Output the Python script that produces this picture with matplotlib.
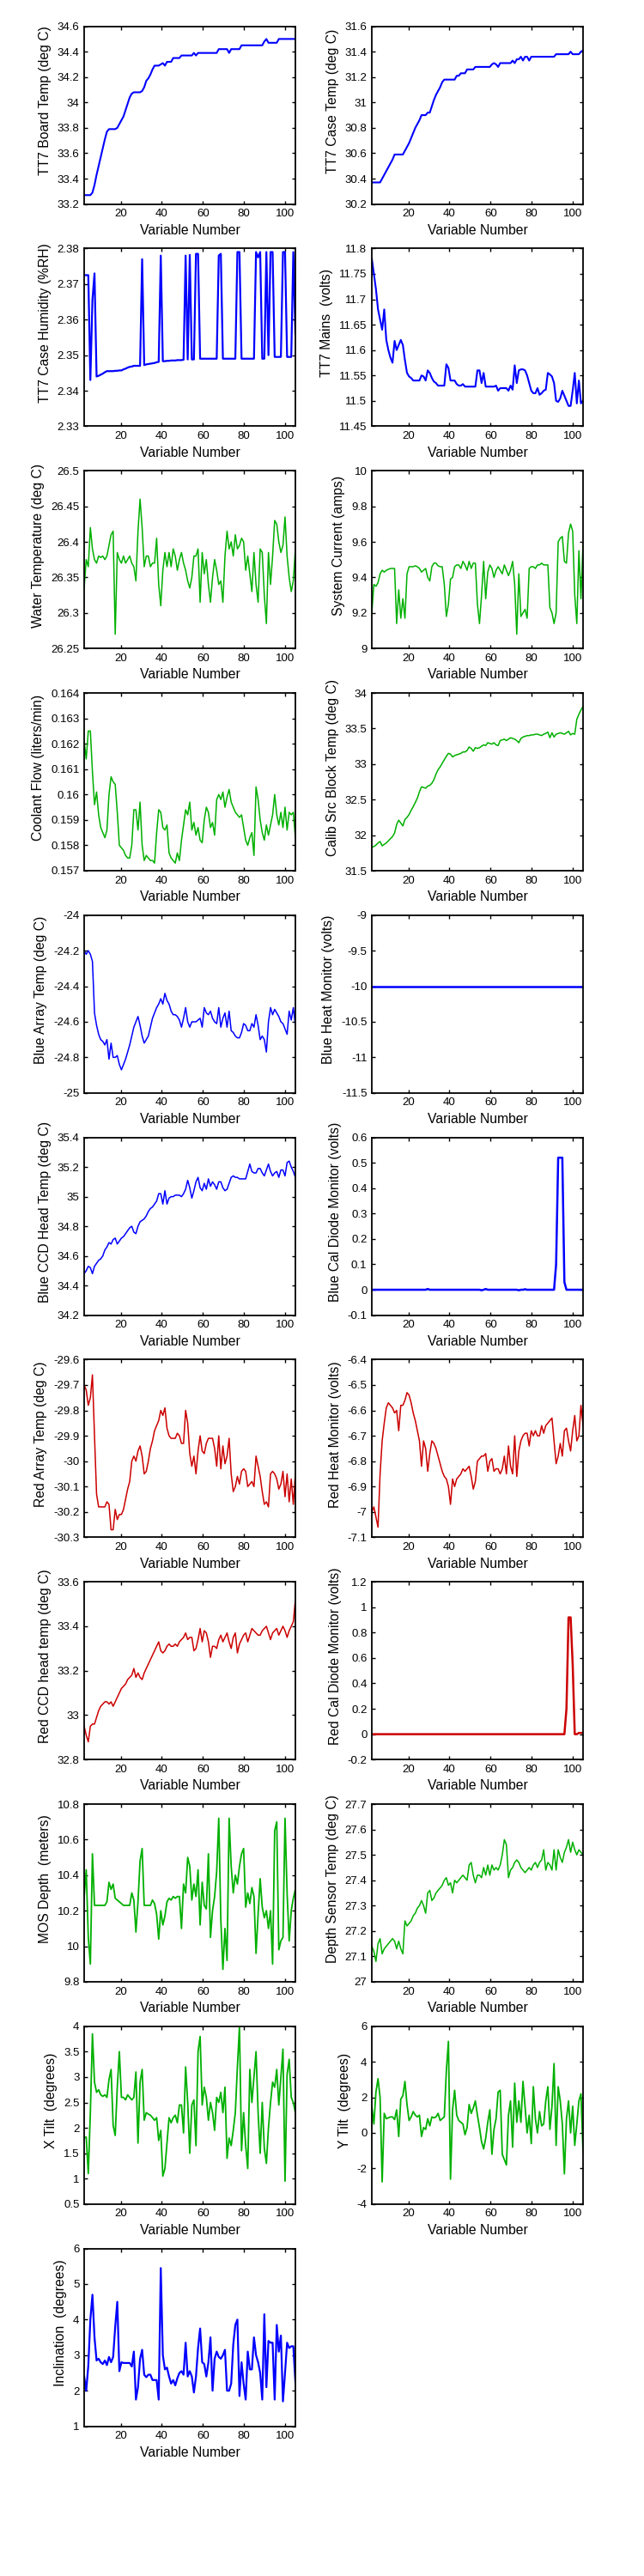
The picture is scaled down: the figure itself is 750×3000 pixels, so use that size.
import numpy as np
import matplotlib
matplotlib.use("Agg")
import matplotlib.pyplot as plt
from matplotlib.ticker import FuncFormatter

plt.rcParams['font.family'] = ['Liberation Sans', 'DejaVu Sans']

# sample positions (variable number axis)
var_num = np.linspace(2.2, 105, 103)

# ---- data, one list per panel ----
tt7_board = [33.27, 33.27, 33.27, 33.27, 33.29, 33.35, 33.43, 33.50, 33.57, 33.64,
             33.71, 33.77, 33.79, 33.79, 33.79, 33.79, 33.80, 33.83, 33.86, 33.89,
             33.94, 33.99, 34.04, 34.07, 34.08, 34.08, 34.08, 34.08, 34.09, 34.12,
             34.17, 34.19, 34.22, 34.26, 34.29, 34.29, 34.29, 34.30, 34.31, 34.29,
             34.32, 34.32, 34.32, 34.35, 34.35, 34.35, 34.35, 34.37, 34.37, 34.37,
             34.37, 34.37, 34.37, 34.39, 34.37, 34.39, 34.39, 34.39, 34.39, 34.39,
             34.39, 34.39, 34.39, 34.39, 34.39, 34.42, 34.42, 34.42, 34.42, 34.42,
             34.39, 34.42, 34.42, 34.42, 34.42, 34.42, 34.45, 34.45, 34.45, 34.45,
             34.45, 34.45, 34.45, 34.45, 34.45, 34.45, 34.45, 34.48, 34.50, 34.47,
             34.47, 34.47, 34.47, 34.47, 34.50, 34.50, 34.50, 34.50, 34.50, 34.50,
             34.50, 34.50, 34.50]

tt7_case = [30.37, 30.37, 30.37, 30.37, 30.37, 30.40, 30.43, 30.46, 30.49, 30.52,
            30.55, 30.59, 30.59, 30.59, 30.59, 30.59, 30.62, 30.65, 30.68, 30.72,
            30.76, 30.80, 30.83, 30.86, 30.90, 30.90, 30.90, 30.92, 30.92, 30.97,
            31.02, 31.06, 31.09, 31.12, 31.16, 31.18, 31.18, 31.18, 31.18, 31.18,
            31.18, 31.21, 31.21, 31.23, 31.23, 31.23, 31.26, 31.26, 31.26, 31.26,
            31.28, 31.28, 31.28, 31.28, 31.28, 31.28, 31.28, 31.28, 31.30, 31.31,
            31.30, 31.28, 31.31, 31.31, 31.31, 31.31, 31.31, 31.31, 31.33, 31.31,
            31.34, 31.34, 31.36, 31.33, 31.36, 31.36, 31.33, 31.36, 31.36, 31.36,
            31.36, 31.36, 31.36, 31.36, 31.36, 31.36, 31.36, 31.36, 31.36, 31.38,
            31.38, 31.38, 31.38, 31.38, 31.38, 31.38, 31.40, 31.38, 31.38, 31.38,
            31.38, 31.40, 31.41]

tt7_humidity = [2.3725, 2.3725, 2.3725, 2.343, 2.3655, 2.373, 2.344, 2.3442, 2.3445, 2.3448,
                2.3452, 2.3455, 2.3455, 2.3455, 2.3455, 2.3456, 2.3456, 2.3457, 2.3457, 2.346,
                2.3462, 2.3465, 2.3467, 2.3468, 2.347, 2.347, 2.347, 2.347, 2.377, 2.3472,
                2.3474, 2.3475, 2.3476, 2.3477, 2.3478, 2.348, 2.3481, 2.378, 2.3483, 2.3483,
                2.3484, 2.3484, 2.3485, 2.3485, 2.3485, 2.3486, 2.3486, 2.3486, 2.3487, 2.378,
                2.3488, 2.3782, 2.3488, 2.3488, 2.3785, 2.3785, 2.349, 2.349, 2.349, 2.349,
                2.349, 2.349, 2.349, 2.349, 2.349, 2.378, 2.3785, 2.349, 2.349, 2.349,
                2.349, 2.349, 2.349, 2.349, 2.379, 2.379, 2.349, 2.349, 2.349, 2.349,
                2.349, 2.349, 2.349, 2.379, 2.3775, 2.379, 2.349, 2.349, 2.379, 2.350,
                2.379, 2.379, 2.3495, 2.3495, 2.3495, 2.3495, 2.379, 2.379, 2.3495, 2.3495,
                2.3495, 2.379, 2.356]

tt7_mains = [11.78, 11.75, 11.72, 11.68, 11.66, 11.64, 11.68, 11.62, 11.60, 11.585,
             11.575, 11.618, 11.60, 11.61, 11.62, 11.61, 11.58, 11.555, 11.548, 11.545,
             11.54, 11.54, 11.54, 11.54, 11.55, 11.548, 11.54, 11.56, 11.555, 11.545,
             11.538, 11.535, 11.53, 11.53, 11.53, 11.53, 11.572, 11.565, 11.54, 11.54,
             11.54, 11.533, 11.53, 11.53, 11.533, 11.528, 11.528, 11.528, 11.528, 11.528,
             11.528, 11.56, 11.56, 11.535, 11.555, 11.528, 11.528, 11.528, 11.528, 11.528,
             11.53, 11.52, 11.525, 11.525, 11.525, 11.525, 11.52, 11.53, 11.522, 11.57,
             11.535, 11.56, 11.562, 11.562, 11.56, 11.55, 11.535, 11.52, 11.515, 11.515,
             11.525, 11.512, 11.515, 11.52, 11.522, 11.555, 11.552, 11.548, 11.535, 11.50,
             11.498, 11.505, 11.52, 11.51, 11.50, 11.49, 11.49, 11.52, 11.555, 11.495,
             11.54, 11.495, 11.50]

water_temp = [26.335, 26.375, 26.365, 26.42, 26.39, 26.375, 26.37, 26.38, 26.378, 26.38,
              26.375, 26.38, 26.395, 26.41, 26.415, 26.27, 26.385, 26.375, 26.37, 26.38,
              26.37, 26.375, 26.38, 26.37, 26.365, 26.345, 26.415, 26.46, 26.42, 26.365,
              26.38, 26.38, 26.365, 26.37, 26.37, 26.405, 26.34, 26.31, 26.36, 26.385,
              26.365, 26.385, 26.365, 26.39, 26.38, 26.36, 26.375, 26.385, 26.37, 26.36,
              26.345, 26.335, 26.35, 26.38, 26.38, 26.39, 26.315, 26.385, 26.355, 26.375,
              26.34, 26.315, 26.35, 26.375, 26.36, 26.34, 26.345, 26.315, 26.38, 26.415,
              26.39, 26.40, 26.38, 26.41, 26.39, 26.395, 26.405, 26.40, 26.36, 26.38,
              26.355, 26.33, 26.385, 26.34, 26.315, 26.39, 26.385, 26.325, 26.285, 26.385,
              26.34, 26.38, 26.43, 26.425, 26.40, 26.385, 26.395, 26.435, 26.38, 26.35,
              26.33, 26.345, 26.39]

system_current = [9.20, 9.36, 9.35, 9.37, 9.42, 9.44, 9.43, 9.44, 9.445, 9.45,
                  9.45, 9.45, 9.14, 9.33, 9.17, 9.28, 9.17, 9.42, 9.46, 9.46,
                  9.46, 9.465, 9.46, 9.45, 9.43, 9.44, 9.45, 9.40, 9.38, 9.46,
                  9.48, 9.48, 9.465, 9.46, 9.46, 9.36, 9.18, 9.25, 9.39, 9.40,
                  9.46, 9.47, 9.47, 9.45, 9.49, 9.47, 9.44, 9.49, 9.45, 9.48,
                  9.48, 9.25, 9.14, 9.30, 9.49, 9.28, 9.43, 9.47, 9.45, 9.40,
                  9.44, 9.46, 9.44, 9.42, 9.47, 9.44, 9.41, 9.44, 9.49, 9.36,
                  9.08, 9.42, 9.18, 9.20, 9.22, 9.17, 9.45, 9.46, 9.46, 9.45,
                  9.47, 9.47, 9.48, 9.47, 9.47, 9.47, 9.23, 9.20, 9.14, 9.20,
                  9.60, 9.62, 9.63, 9.49, 9.48, 9.65, 9.70, 9.66, 9.30, 9.14,
                  9.55, 9.28, 9.60]

coolant_flow = [0.1621, 0.1614, 0.1625, 0.1625, 0.1609, 0.1596, 0.1601, 0.1592, 0.1587, 0.1585,
                0.1583, 0.1586, 0.1600, 0.1607, 0.1605, 0.1604, 0.1593, 0.1580, 0.1579, 0.1578,
                0.1576, 0.1575, 0.1575, 0.1580, 0.1594, 0.1594, 0.1586, 0.1597, 0.1580, 0.1574,
                0.1576, 0.1575, 0.1574, 0.1574, 0.1573, 0.1585, 0.1594, 0.1593, 0.1587, 0.1586,
                0.1588, 0.1577, 0.1575, 0.1574, 0.1573, 0.1577, 0.1574, 0.1582, 0.1588, 0.1594,
                0.1592, 0.1597, 0.1586, 0.1589, 0.1584, 0.1587, 0.1582, 0.1581, 0.1590, 0.1595,
                0.1593, 0.1587, 0.1589, 0.1584, 0.1598, 0.1600, 0.1598, 0.1601, 0.1595, 0.1599,
                0.1602, 0.1597, 0.1595, 0.1593, 0.1592, 0.1591, 0.1592, 0.1587, 0.1582, 0.1580,
                0.1583, 0.1585, 0.1576, 0.1603, 0.1598, 0.1590, 0.1585, 0.1582, 0.1588, 0.1584,
                0.1588, 0.1592, 0.1600, 0.1592, 0.1588, 0.1593, 0.1587, 0.1595, 0.1586, 0.1593,
                0.1592, 0.1593, 0.1583]

calib_src = [31.83, 31.84, 31.86, 31.89, 31.91, 31.85, 31.87, 31.89, 31.92, 31.95,
             31.98, 32.03, 32.15, 32.21, 32.17, 32.13, 32.22, 32.25, 32.29, 32.35,
             32.40, 32.46, 32.52, 32.61, 32.68, 32.67, 32.66, 32.69, 32.70, 32.73,
             32.78, 32.86, 32.92, 32.96, 33.01, 33.06, 33.11, 33.15, 33.14, 33.10,
             33.12, 33.13, 33.14, 33.15, 33.17, 33.17, 33.19, 33.24, 33.22, 33.18,
             33.23, 33.22, 33.23, 33.25, 33.27, 33.26, 33.30, 33.29, 33.28, 33.30,
             33.27, 33.26, 33.33, 33.34, 33.35, 33.33, 33.35, 33.37, 33.36, 33.35,
             33.33, 33.30, 33.36, 33.38, 33.39, 33.40, 33.40, 33.41, 33.41, 33.42,
             33.42, 33.41, 33.40, 33.42, 33.43, 33.45, 33.37, 33.44, 33.38, 33.42,
             33.43, 33.44, 33.43, 33.42, 33.44, 33.46, 33.41, 33.43, 33.42, 33.63,
             33.70, 33.76, 33.81]

blue_array = [-24.20, -24.22, -24.20, -24.22, -24.26, -24.55, -24.62, -24.67, -24.70, -24.71,
              -24.73, -24.70, -24.81, -24.72, -24.80, -24.80, -24.79, -24.84, -24.87, -24.84,
              -24.81, -24.77, -24.73, -24.68, -24.63, -24.60, -24.57, -24.62, -24.68, -24.72,
              -24.70, -24.68, -24.63, -24.58, -24.55, -24.52, -24.50, -24.47, -24.50, -24.44,
              -24.48, -24.50, -24.54, -24.56, -24.56, -24.57, -24.59, -24.63, -24.58, -24.52,
              -24.60, -24.63, -24.60, -24.60, -24.60, -24.59, -24.58, -24.63, -24.52, -24.55,
              -24.56, -24.54, -24.58, -24.60, -24.61, -24.52, -24.63, -24.58, -24.55, -24.63,
              -24.54, -24.65, -24.66, -24.68, -24.69, -24.69, -24.66, -24.61, -24.62, -24.65,
              -24.65, -24.61, -24.63, -24.56, -24.62, -24.70, -24.68, -24.70, -24.77, -24.60,
              -24.52, -24.56, -24.53, -24.55, -24.57, -24.60, -24.61, -24.64, -24.67, -24.54,
              -24.59, -24.52, -24.62]

blue_heat = [-10.0, -10.0, -10.0, -10.0, -10.0, -10.0, -10.0, -10.0, -10.0, -10.0,
             -10.0, -10.0, -10.0, -10.0, -10.0, -10.0, -10.0, -10.0, -10.0, -10.0,
             -10.0, -10.0, -10.0, -10.0, -10.0, -10.0, -10.0, -10.0, -10.0, -10.0,
             -10.0, -10.0, -10.0, -10.0, -10.0, -10.0, -10.0, -10.0, -10.0, -10.0,
             -10.0, -10.0, -10.0, -10.0, -10.0, -10.0, -10.0, -10.0, -10.0, -10.0,
             -10.0, -10.0, -10.0, -10.0, -10.0, -10.0, -10.0, -10.0, -10.0, -10.0,
             -10.0, -10.0, -10.0, -10.0, -10.0, -10.0, -10.0, -10.0, -10.0, -10.0,
             -10.0, -10.0, -10.0, -10.0, -10.0, -10.0, -10.0, -10.0, -10.0, -10.0,
             -10.0, -10.0, -10.0, -10.0, -10.0, -10.0, -10.0, -10.0, -10.0, -10.0,
             -10.0, -10.0, -10.0, -10.0, -10.0, -10.0, -10.0, -10.0, -10.0, -10.0,
             -10.0, -10.0, -10.0]

blue_ccd = [34.48, 34.50, 34.53, 34.52, 34.48, 34.53, 34.55, 34.57, 34.58, 34.60,
            34.64, 34.66, 34.69, 34.68, 34.71, 34.72, 34.68, 34.70, 34.72, 34.73,
            34.75, 34.77, 34.79, 34.80, 34.76, 34.75, 34.80, 34.83, 34.84, 34.85,
            34.87, 34.90, 34.92, 34.93, 34.95, 34.97, 35.02, 35.02, 34.95, 35.04,
            34.95, 34.99, 35.00, 35.00, 35.01, 35.01, 35.01, 35.00, 35.02, 35.05,
            35.11, 35.06, 34.99, 35.04, 35.10, 35.13, 35.06, 35.04, 35.09, 35.05,
            35.12, 35.07, 35.10, 35.08, 35.05, 35.10, 35.10, 35.06, 35.04, 35.05,
            35.09, 35.13, 35.14, 35.13, 35.13, 35.12, 35.12, 35.12, 35.12, 35.17,
            35.22, 35.17, 35.16, 35.16, 35.19, 35.19, 35.16, 35.14, 35.18, 35.22,
            35.17, 35.14, 35.16, 35.17, 35.13, 35.18, 35.18, 35.14, 35.23, 35.24,
            35.20, 35.17, 35.13]

blue_cal_diode = [0.0, 0.0, 0.0, 0.0, 0.0, 0.0, 0.0, 0.0, 0.0, 0.0,
                  0.0, 0.0, 0.0, 0.0, 0.0, 0.0, 0.0, 0.0, 0.0, 0.0,
                  0.0, 0.0, 0.0, 0.0, 0.0, 0.0, 0.0, 0.003, 0.0, 0.0,
                  0.0, 0.0, 0.0, 0.0, 0.0, 0.0, 0.0, 0.0, 0.0, 0.0,
                  0.0, 0.0, 0.0, 0.0, 0.0, 0.0, 0.0, 0.0, 0.0, 0.0,
                  0.0, 0.0, 0.0, -0.002, 0.0, 0.003, 0.0, 0.0, 0.0, 0.0,
                  0.0, 0.0, 0.0, 0.0, 0.0, 0.0, 0.0, 0.0, 0.0, 0.0,
                  0.0, -0.002, 0.0, 0.0, 0.002, 0.0, 0.0, 0.0, 0.0, 0.0,
                  0.0, 0.0, 0.0, 0.0, 0.0, 0.0, 0.0, 0.0, 0.0, 0.10,
                  0.52, 0.52, 0.52, 0.03, 0.0, 0.0, 0.0, 0.0, 0.0, 0.0,
                  0.0, 0.0, 0.0]

red_array = [-29.70, -29.72, -29.78, -29.75, -29.66, -29.90, -30.13, -30.18, -30.18, -30.18,
             -30.18, -30.16, -30.17, -30.27, -30.27, -30.19, -30.23, -30.21, -30.21, -30.19,
             -30.15, -30.11, -30.08, -30.00, -29.98, -30.00, -29.96, -29.94, -29.98, -30.05,
             -30.04, -30.00, -29.95, -29.92, -29.88, -29.86, -29.84, -29.80, -29.82, -29.79,
             -29.87, -29.90, -29.91, -29.91, -29.91, -29.89, -29.90, -29.93, -29.93, -29.80,
             -29.85, -29.97, -30.02, -29.98, -30.05, -29.96, -29.90, -29.96, -29.97, -29.93,
             -29.91, -29.91, -29.91, -29.95, -30.02, -29.90, -30.03, -29.94, -30.01, -29.98,
             -29.91, -30.05, -30.12, -30.10, -30.06, -30.09, -30.04, -30.03, -30.04, -30.10,
             -30.09, -30.08, -30.10, -29.98, -30.02, -30.06, -30.12, -30.17, -30.16, -30.18,
             -30.05, -30.04, -30.05, -30.07, -30.11, -30.09, -30.04, -30.14, -30.05, -30.16,
             -30.07, -30.17, -30.05]

red_heat = [-7.00, -6.98, -7.02, -7.06, -6.85, -6.72, -6.65, -6.59, -6.57, -6.58,
            -6.59, -6.61, -6.60, -6.68, -6.58, -6.58, -6.56, -6.53, -6.54, -6.57,
            -6.61, -6.64, -6.68, -6.72, -6.82, -6.72, -6.75, -6.84, -6.77, -6.72,
            -6.73, -6.75, -6.78, -6.81, -6.84, -6.86, -6.87, -6.90, -6.97, -6.87,
            -6.90, -6.87, -6.86, -6.85, -6.83, -6.84, -6.83, -6.82, -6.86, -6.91,
            -6.88, -6.80, -6.79, -6.78, -6.78, -6.77, -6.84, -6.80, -6.79, -6.84,
            -6.83, -6.83, -6.85, -6.83, -6.78, -6.85, -6.74, -6.82, -6.85, -6.70,
            -6.86, -6.76, -6.72, -6.70, -6.69, -6.69, -6.74, -6.68, -6.70, -6.68,
            -6.70, -6.70, -6.66, -6.69, -6.66, -6.65, -6.64, -6.63, -6.72, -6.81,
            -6.78, -6.73, -6.78, -6.68, -6.67, -6.72, -6.76, -6.68, -6.62, -6.72,
            -6.70, -6.58, -6.66]

red_ccd = [32.95, 32.91, 32.88, 32.95, 32.96, 32.96, 32.99, 33.02, 33.04, 33.05,
           33.06, 33.06, 33.05, 33.06, 33.04, 33.06, 33.08, 33.10, 33.12, 33.13,
           33.14, 33.16, 33.17, 33.18, 33.21, 33.17, 33.19, 33.17, 33.16, 33.19,
           33.21, 33.23, 33.25, 33.27, 33.29, 33.31, 33.33, 33.29, 33.28, 33.29,
           33.31, 33.32, 33.31, 33.31, 33.32, 33.31, 33.33, 33.34, 33.35, 33.37,
           33.34, 33.35, 33.35, 33.29, 33.30, 33.34, 33.39, 33.33, 33.38, 33.37,
           33.33, 33.26, 33.31, 33.31, 33.30, 33.34, 33.36, 33.33, 33.35, 33.37,
           33.33, 33.30, 33.35, 33.37, 33.28, 33.32, 33.34, 33.36, 33.37, 33.33,
           33.36, 33.39, 33.38, 33.37, 33.36, 33.36, 33.38, 33.39, 33.40, 33.37,
           33.34, 33.37, 33.38, 33.39, 33.36, 33.38, 33.40, 33.38, 33.35, 33.38,
           33.40, 33.42, 33.52]

red_cal_diode = [0.0, 0.0, 0.0, 0.0, 0.0, 0.0, 0.0, 0.0, 0.0, 0.0,
                 0.0, 0.0, 0.0, 0.0, 0.0, 0.0, 0.0, 0.0, 0.0, 0.0,
                 0.0, 0.0, 0.0, 0.0, 0.0, 0.0, 0.0, 0.0, 0.0, 0.0,
                 0.0, 0.0, 0.0, 0.0, 0.0, 0.0, 0.0, 0.0, 0.0, 0.0,
                 0.0, 0.0, 0.0, 0.0, 0.0, 0.0, 0.0, 0.0, 0.0, 0.0,
                 0.0, 0.0, 0.0, 0.0, 0.0, 0.0, 0.0, 0.0, 0.0, 0.0,
                 0.0, 0.0, 0.0, 0.0, 0.0, 0.0, 0.0, 0.0, 0.0, 0.0,
                 0.0, 0.0, 0.0, 0.0, 0.0, 0.0, 0.0, 0.0, 0.0, 0.0,
                 0.0, 0.0, 0.0, 0.0, 0.0, 0.0, 0.0, 0.0, 0.0, 0.0,
                 0.0, 0.0, 0.0, 0.0, 0.20, 0.92, 0.92, 0.55, 0.0, 0.0,
                 0.01, 0.01, 0.01]

mos_depth = [10.28, 10.43, 10.05, 9.90, 10.52, 10.23, 10.23, 10.23, 10.23, 10.23,
             10.23, 10.25, 10.36, 10.32, 10.35, 10.27, 10.26, 10.25, 10.24, 10.23,
             10.23, 10.23, 10.23, 10.30, 10.26, 10.08, 10.25, 10.48, 10.55, 10.23,
             10.23, 10.23, 10.23, 10.26, 10.24, 10.18, 10.04, 10.20, 10.12, 10.17,
             10.25, 10.27, 10.26, 10.28, 10.27, 10.28, 10.28, 10.10, 10.35, 10.30,
             10.50, 10.45, 10.26, 10.35, 10.28, 10.43, 10.12, 10.36, 10.23, 10.21,
             10.52, 10.05, 10.20, 10.28, 10.42, 10.72, 10.15, 9.87, 10.10, 9.92,
             10.72, 10.45, 10.30, 10.40, 10.35, 10.45, 10.52, 10.55, 10.22, 10.30,
             10.24, 10.33, 10.28, 9.96, 10.18, 10.38, 10.22, 10.16, 10.20, 10.10,
             10.20, 9.90, 10.65, 10.70, 9.98, 10.03, 10.05, 10.72, 10.30, 10.03,
             10.20, 10.27, 10.32]

depth_temp = [27.14, 27.12, 27.08, 27.15, 27.17, 27.11, 27.13, 27.14, 27.15, 27.16,
              27.17, 27.16, 27.13, 27.16, 27.13, 27.11, 27.24, 27.22, 27.23, 27.24,
              27.26, 27.27, 27.29, 27.30, 27.32, 27.30, 27.27, 27.35, 27.36, 27.32,
              27.33, 27.35, 27.36, 27.37, 27.38, 27.40, 27.41, 27.38, 27.39, 27.35,
              27.40, 27.39, 27.40, 27.41, 27.42, 27.41, 27.40, 27.46, 27.47, 27.42,
              27.39, 27.42, 27.42, 27.41, 27.45, 27.42, 27.46, 27.42, 27.46, 27.44,
              27.45, 27.44, 27.46, 27.50, 27.56, 27.54, 27.41, 27.44, 27.45, 27.47,
              27.48, 27.47, 27.45, 27.44, 27.43, 27.44, 27.45, 27.44, 27.46, 27.47,
              27.45, 27.47, 27.48, 27.52, 27.44, 27.47, 27.46, 27.44, 27.52, 27.44,
              27.52, 27.49, 27.47, 27.51, 27.53, 27.56, 27.51, 27.55, 27.52, 27.50,
              27.52, 27.51, 27.50]

x_tilt = [1.80, 1.82, 1.10, 2.30, 3.85, 2.90, 2.70, 2.75, 2.65, 2.62,
          2.65, 2.60, 2.95, 3.15, 2.05, 1.85, 2.80, 3.50, 2.60, 2.60,
          2.55, 2.65, 2.60, 2.55, 2.60, 3.10, 1.70, 2.90, 3.15, 2.15,
          2.30, 2.27, 2.25, 2.20, 2.15, 2.20, 1.75, 1.95, 1.05, 1.20,
          1.70, 2.20, 2.10, 2.20, 2.25, 2.10, 2.45, 2.45, 1.90, 3.20,
          2.50, 1.50, 2.45, 2.55, 1.65, 3.50, 3.80, 2.45, 2.80, 2.60,
          2.15, 2.50, 2.30, 1.95, 2.60, 2.50, 2.70, 2.30, 2.80, 1.40,
          1.80, 1.65, 1.95, 2.30, 3.20, 4.00, 1.55, 2.30, 1.65, 1.20,
          3.15, 2.50, 3.00, 3.50, 2.30, 1.50, 2.50, 1.60, 1.30, 2.00,
          2.50, 2.90, 2.80, 3.15, 2.45, 3.00, 3.55, 0.95, 3.05, 3.35,
          2.60, 2.50, 2.30]

y_tilt = [1.50, 0.50, 2.30, 3.05, 2.00, -2.75, 1.10, 0.80, 0.85, 0.90,
          0.90, 0.75, 1.30, -0.20, 1.90, 2.10, 2.90, 1.60, 0.70, 0.90,
          1.20, 1.00, 0.90, 1.00, -0.20, 0.30, 0.20, 0.80, 0.40, 0.90,
          0.85, 0.90, 1.10, 0.70, 0.80, 0.90, 3.50, 5.15, -2.60, 1.30,
          2.40, 1.00, 0.70, 0.60, 0.50, -0.10, 0.30, 1.60, 1.10, 1.40,
          1.80, 1.00, 0.30, -0.50, -0.90, -0.30, 0.60, 1.30, -1.20, 0.20,
          0.80, 2.30, 2.40, -1.20, -1.50, -1.80, 1.00, 1.80, -0.80, 2.80,
          0.60, 1.80, 0.60, 2.90, 1.50, 0.00, 1.00, -0.60, 2.60, 0.80,
          0.00, 1.20, 0.40, 0.50, 1.80, 2.60, 0.20, 1.50, 3.90, -0.70,
          2.60, 1.80, 0.50, -2.30, 0.80, 1.80, 0.00, 1.50, -0.70, 0.50,
          1.80, 2.20, -1.10]

inclination = [2.40, 2.00, 2.70, 4.00, 4.70, 3.50, 2.85, 2.90, 2.80, 2.75,
               2.85, 2.72, 2.95, 2.80, 2.95, 3.80, 4.50, 2.55, 2.80, 2.78,
               2.78, 2.78, 2.78, 2.68, 3.10, 1.75, 2.10, 2.90, 3.15, 2.45,
               2.38, 2.45, 2.45, 2.30, 2.30, 2.30, 1.75, 5.45, 3.00, 2.60,
               2.65, 2.40, 2.20, 2.30, 2.15, 2.35, 2.50, 2.55, 2.45, 3.35,
               2.40, 2.55, 2.40, 1.95, 2.40, 3.20, 3.75, 2.80, 2.75, 2.40,
               2.80, 3.50, 2.00, 2.90, 3.10, 2.95, 2.90, 3.00, 3.15, 2.00,
               2.00, 2.20, 3.30, 3.85, 4.00, 1.85, 2.80, 2.20, 1.75, 3.10,
               2.60, 2.60, 3.50, 3.00, 2.80, 2.50, 1.75, 4.15, 2.10, 3.40,
               3.35, 3.35, 1.75, 3.85, 3.10, 3.55, 1.70, 2.50, 3.35, 3.20,
               3.25, 3.25, 2.25]

BLUE = '#0000ff'
GREEN = '#00b000'
RED = '#cc0000'

# label, series, colour, y-limits, y tick step, line width
panels = [
    ("TT7 Board Temp (deg C)", tt7_board, BLUE, (33.2, 34.6), 0.2, 1.5),
    ("TT7 Case Temp (deg C)", tt7_case, BLUE, (30.2, 31.6), 0.2, 1.5),
    ("TT7 Case Humidity (%RH)", tt7_humidity, BLUE, (2.33, 2.38), 0.01, 1.6),
    ("TT7 Mains  (volts)", tt7_mains, BLUE, (11.45, 11.8), 0.05, 1.5),
    ("Water Temperature (deg C)", water_temp, GREEN, (26.25, 26.5), 0.05, 1.1),
    ("System Current (amps)", system_current, GREEN, (9.0, 10.0), 0.2, 1.1),
    ("Coolant Flow (liters/min)", coolant_flow, GREEN, (0.157, 0.164), 0.001, 1.1),
    ("Calib Src Block Temp (deg C)", calib_src, GREEN, (31.5, 34.0), 0.5, 1.1),
    ("Blue Array Temp (deg C)", blue_array, BLUE, (-25.0, -24.0), 0.2, 1.1),
    ("Blue Heat Monitor (volts)", blue_heat, BLUE, (-11.5, -9.0), 0.5, 1.8),
    ("Blue CCD Head Temp (deg C)", blue_ccd, BLUE, (34.2, 35.4), 0.2, 1.1),
    ("Blue Cal Diode Monitor (volts)", blue_cal_diode, BLUE, (-0.1, 0.6), 0.1, 1.8),
    ("Red Array Temp (deg C)", red_array, RED, (-30.3, -29.6), 0.1, 1.1),
    ("Red Heat Monitor (volts)", red_heat, RED, (-7.1, -6.4), 0.1, 1.1),
    ("Red CCD head temp (deg C)", red_ccd, RED, (32.8, 33.6), 0.2, 1.1),
    ("Red Cal Diode Monitor (volts)", red_cal_diode, RED, (-0.2, 1.2), 0.2, 1.8),
    ("MOS Depth  (meters)", mos_depth, GREEN, (9.8, 10.8), 0.2, 1.3),
    ("Depth Sensor Temp (deg C)", depth_temp, GREEN, (27.0, 27.7), 0.1, 1.1),
    ("X Tilt  (degrees)", x_tilt, GREEN, (0.5, 4.0), 0.5, 1.3),
    ("Y Tilt  (degrees)", y_tilt, GREEN, (-4.0, 6.0), 2.0, 1.3),
    ("Inclination  (degrees)", inclination, BLUE, (1.0, 6.0), 1.0, 1.6),
]

fig = plt.figure(figsize=(7.5, 30), dpi=100)
W, H = 750.0, 3000.0
col_x = [98.0, 433.0]
ax_w, ax_h = 246.0, 207.0
row_top, row_step = 30.6, 258.8

fmt = FuncFormatter(lambda v, pos: '%g' % round(v, 6))

for k, (label, vals, color, ylim, ystep, lw) in enumerate(panels):
    row, col = divmod(k, 2)
    top = row_top + row * row_step
    ax = fig.add_axes([col_x[col] / W, 1 - (top + ax_h) / H, ax_w / W, ax_h / H])
    ax.plot(var_num, vals, color=color, lw=lw)
    ax.set_xlim(2.2, 105)
    ax.set_ylim(*ylim)
    ax.set_xticks([20, 40, 60, 80, 100])
    ax.set_yticks(np.arange(ylim[0], ylim[1] + ystep / 2, ystep))
    ax.yaxis.set_major_formatter(fmt)
    ax.tick_params(direction='in', top=True, right=True, length=3, width=1.0,
                   labelsize=9.5, pad=4)
    for s in ax.spines.values():
        s.set_linewidth(1.3)
    ax.set_xlabel("Variable Number", fontsize=11.3, labelpad=4)
    ax.set_ylabel(label, fontsize=11.3, labelpad=5)
    ax.yaxis.label.set_y(0.58)

fig.savefig("out.png", dpi=100)
